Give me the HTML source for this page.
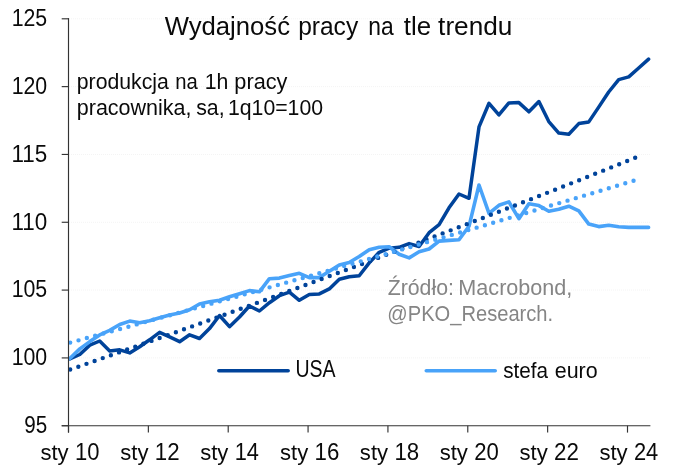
<!DOCTYPE html>
<html lang="pl"><head><meta charset="utf-8"><title>Wydajność pracy na tle trendu</title>
<style>
html,body{margin:0;padding:0;background:#fff;}
body{width:679px;height:473px;overflow:hidden;}
svg{display:block;}
text{font-family:"Liberation Sans",sans-serif;fill:#0a0a0a;}
</style></head><body>
<svg width="679" height="473" viewBox="0 0 679 473">
<rect width="679" height="473" fill="#fff"/>
<line x1="69" x2="650.4" y1="357.92" y2="357.92" stroke="#f4f4f4" stroke-width="1" stroke-dasharray="1 1"/><line x1="69" x2="650.4" y1="290.09" y2="290.09" stroke="#f4f4f4" stroke-width="1" stroke-dasharray="1 1"/><line x1="69" x2="650.4" y1="222.27" y2="222.27" stroke="#f4f4f4" stroke-width="1" stroke-dasharray="1 1"/><line x1="69" x2="650.4" y1="154.45" y2="154.45" stroke="#f4f4f4" stroke-width="1" stroke-dasharray="1 1"/><line x1="69" x2="650.4" y1="86.62" y2="86.62" stroke="#f4f4f4" stroke-width="1" stroke-dasharray="1 1"/><line x1="69" x2="650.4" y1="18.80" y2="18.80" stroke="#f4f4f4" stroke-width="1" stroke-dasharray="1 1"/>
<polyline points="69.8,358.9 79.8,354.5 89.8,345.1 99.7,341.0 109.7,350.9 119.7,349.8 129.7,352.9 139.7,346.7 149.6,339.8 159.6,332.3 169.6,336.9 179.6,341.7 189.6,334.8 199.5,338.5 209.5,328.6 219.5,315.5 229.5,326.7 239.5,317.0 249.4,306.0 259.4,311.0 269.4,302.7 279.4,295.7 289.4,292.2 299.3,300.3 309.3,294.6 319.3,293.9 329.3,288.9 339.3,279.2 349.2,276.7 359.2,275.8 369.2,262.9 379.2,252.3 389.2,248.2 399.1,247.3 409.1,243.6 419.1,246.5 429.1,232.7 439.1,224.7 449.0,207.8 459.0,194.0 469.0,198.3 479.0,126.9 489.0,103.3 498.9,114.8 508.9,102.9 518.9,102.6 528.9,111.8 538.9,101.5 548.8,121.6 558.8,133.1 568.8,134.2 578.8,123.6 588.8,121.9 598.7,107.1 608.7,92.0 618.7,79.6 628.7,76.9 638.7,68.0 648.6,59.1" fill="none" stroke="#00439a" stroke-width="3.5" stroke-linejoin="round" stroke-linecap="round"/>
<polyline points="69.8,358.5 79.8,348.9 89.8,341.6 99.7,334.9 109.7,330.4 119.7,324.5 129.7,321.1 139.7,322.8 149.6,320.7 159.6,317.7 169.6,315.1 179.6,313.0 189.6,309.8 199.5,304.0 209.5,301.7 219.5,300.2 229.5,296.8 239.5,293.7 249.4,290.6 259.4,291.8 269.4,278.7 279.4,278.1 289.4,275.6 299.3,273.3 309.3,277.6 319.3,277.6 329.3,271.3 339.3,265.0 349.2,262.5 359.2,256.5 369.2,249.8 379.2,247.3 389.2,246.7 399.1,254.2 409.1,257.9 419.1,251.7 429.1,249.0 439.1,241.1 449.0,240.4 459.0,239.8 469.0,226.3 479.0,185.0 489.0,213.3 498.9,205.3 508.9,201.9 518.9,218.7 528.9,203.7 538.9,205.6 548.8,211.2 558.8,209.3 568.8,206.2 578.8,210.8 588.8,224.1 598.7,226.6 608.7,225.3 618.7,226.8 628.7,227.4 638.7,227.4 648.6,227.4" fill="none" stroke="#49a3f9" stroke-width="3.6" stroke-linejoin="round" stroke-linecap="round"/>
<polyline points="70.2,369.52 74.9,367.86 79.7,366.21 84.4,364.55 89.2,362.89 93.9,361.22 98.7,359.56 103.4,357.89 108.2,356.22 112.9,354.55 117.7,352.88 122.4,351.20 127.2,349.53 131.9,347.85 136.7,346.17 141.4,344.48 146.2,342.80 150.9,341.11 155.7,339.42 160.4,337.73 165.2,336.03 169.9,334.34 174.7,332.64 179.4,330.94 184.2,329.24 188.9,327.54 193.7,325.83 198.4,324.12 203.2,322.41 207.9,320.70 212.6,318.98 217.4,317.27 222.1,315.55 226.9,313.83 231.6,312.11 236.4,310.38 241.1,308.65 245.9,306.93 250.6,305.19 255.4,303.46 260.1,301.73 264.9,299.99 269.6,298.25 274.4,296.51 279.1,294.76 283.9,293.02 288.6,291.27 293.4,289.52 298.1,287.77 302.9,286.01 307.6,284.26 312.4,282.50 317.1,280.74 321.9,278.98 326.6,277.21 331.4,275.44 336.1,273.67 340.9,271.90 345.6,270.13 350.4,268.35 355.1,266.58 359.8,264.80 364.6,263.01 369.3,261.23 374.1,259.44 378.8,257.65 383.6,255.86 388.3,254.07 393.1,252.27 397.8,250.48 402.6,248.68 407.3,246.88 412.1,245.07 416.8,243.27 421.6,241.46 426.3,239.65 431.1,237.83 435.8,236.02 440.6,234.20 445.3,232.38 450.1,230.56 454.8,228.74 459.6,226.91 464.3,225.08 469.1,223.25 473.8,221.42 478.6,219.58 483.3,217.75 488.1,215.91 492.8,214.07 497.5,212.22 502.3,210.38 507.0,208.53 511.8,206.68 516.5,204.82 521.3,202.97 526.0,201.11 530.8,199.25 535.5,197.39 540.3,195.53 545.0,193.66 549.8,191.79 554.5,189.92 559.3,188.05 564.0,186.17 568.8,184.29 573.5,182.41 578.3,180.53 583.0,178.65 587.8,176.76 592.5,174.87 597.3,172.98 602.0,171.09 606.8,169.19 611.5,167.29 616.3,165.39 621.0,163.49 625.8,161.58 630.5,159.67 635.3,157.76 640.0,155.85" fill="none" stroke="#00439a" stroke-width="4.4" stroke-linecap="round" stroke-dasharray="0 8.62"/>
<polyline points="70.2,342.60 74.9,341.30 79.7,340.01 84.4,338.72 89.2,337.42 93.9,336.13 98.7,334.83 103.4,333.53 108.2,332.23 112.9,330.93 117.7,329.63 122.4,328.33 127.2,327.03 131.9,325.72 136.7,324.41 141.4,323.11 146.2,321.80 150.9,320.49 155.7,319.17 160.4,317.86 165.2,316.55 169.9,315.23 174.7,313.92 179.4,312.60 184.2,311.28 188.9,309.96 193.7,308.64 198.4,307.32 203.2,305.99 207.9,304.67 212.6,303.34 217.4,302.01 222.1,300.68 226.9,299.35 231.6,298.02 236.4,296.69 241.1,295.36 245.9,294.02 250.6,292.68 255.4,291.35 260.1,290.01 264.9,288.67 269.6,287.33 274.4,285.98 279.1,284.64 283.9,283.30 288.6,281.95 293.4,280.60 298.1,279.25 302.9,277.90 307.6,276.55 312.4,275.20 317.1,273.85 321.9,272.49 326.6,271.13 331.4,269.78 336.1,268.42 340.9,267.06 345.6,265.70 350.4,264.33 355.1,262.97 359.8,261.60 364.6,260.24 369.3,258.87 374.1,257.50 378.8,256.13 383.6,254.76 388.3,253.39 393.1,252.01 397.8,250.64 402.6,249.26 407.3,247.88 412.1,246.50 416.8,245.12 421.6,243.74 426.3,242.36 431.1,240.97 435.8,239.59 440.6,238.20 445.3,236.81 450.1,235.42 454.8,234.03 459.6,232.64 464.3,231.24 469.1,229.85 473.8,228.45 478.6,227.05 483.3,225.66 488.1,224.26 492.8,222.85 497.5,221.45 502.3,220.05 507.0,218.64 511.8,217.24 516.5,215.83 521.3,214.42 526.0,213.01 530.8,211.60 535.5,210.18 540.3,208.77 545.0,207.35 549.8,205.93 554.5,204.52 559.3,203.10 564.0,201.67 568.8,200.25 573.5,198.83 578.3,197.40 583.0,195.98 587.8,194.55 592.5,193.12 597.3,191.69 602.0,190.26 606.8,188.82 611.5,187.39 616.3,185.95 621.0,184.52 625.8,183.08 630.5,181.64 635.3,180.20 640.0,178.75" fill="none" stroke="#49a3f9" stroke-width="4.4" stroke-linecap="round" stroke-dasharray="0 8.62"/>
<line x1="68.5" x2="68.5" y1="18.30" y2="432.6" stroke="#333333" stroke-width="1.15"/>
<line x1="61.7" x2="650.4" y1="425.74" y2="425.74" stroke="#333333" stroke-width="1.15"/>
<line x1="61.7" x2="69" y1="425.74" y2="425.74" stroke="#333333" stroke-width="1.15"/><line x1="61.7" x2="69" y1="357.92" y2="357.92" stroke="#333333" stroke-width="1.15"/><line x1="61.7" x2="69" y1="290.09" y2="290.09" stroke="#333333" stroke-width="1.15"/><line x1="61.7" x2="69" y1="222.27" y2="222.27" stroke="#333333" stroke-width="1.15"/><line x1="61.7" x2="69" y1="154.45" y2="154.45" stroke="#333333" stroke-width="1.15"/><line x1="61.7" x2="69" y1="86.62" y2="86.62" stroke="#333333" stroke-width="1.15"/><line x1="61.7" x2="69" y1="18.80" y2="18.80" stroke="#333333" stroke-width="1.15"/><line x1="68.50" x2="68.50" y1="425.7" y2="432.6" stroke="#333333" stroke-width="1.15"/><line x1="148.36" x2="148.36" y1="425.7" y2="432.6" stroke="#333333" stroke-width="1.15"/><line x1="228.21" x2="228.21" y1="425.7" y2="432.6" stroke="#333333" stroke-width="1.15"/><line x1="308.07" x2="308.07" y1="425.7" y2="432.6" stroke="#333333" stroke-width="1.15"/><line x1="387.93" x2="387.93" y1="425.7" y2="432.6" stroke="#333333" stroke-width="1.15"/><line x1="467.78" x2="467.78" y1="425.7" y2="432.6" stroke="#333333" stroke-width="1.15"/><line x1="547.64" x2="547.64" y1="425.7" y2="432.6" stroke="#333333" stroke-width="1.15"/><line x1="627.50" x2="627.50" y1="425.7" y2="432.6" stroke="#333333" stroke-width="1.15"/>
<line x1="218.8" x2="288.2" y1="370.7" y2="370.7" stroke="#00439a" stroke-width="3.5" stroke-linecap="round"/>
<line x1="426.3" x2="495.2" y1="370.7" y2="370.7" stroke="#49a3f9" stroke-width="3.6" stroke-linecap="round"/>
<text y="34.8"><tspan x="164.66" font-size="26.5" textLength="125.39" lengthAdjust="spacingAndGlyphs">Wydajność</tspan> <tspan x="298.18" font-size="26.5" textLength="59.98" lengthAdjust="spacingAndGlyphs">pracy</tspan> <tspan x="368.19" font-size="26.5" textLength="25.39" lengthAdjust="spacingAndGlyphs">na</tspan> <tspan x="403.71" font-size="26.5" textLength="27.31" lengthAdjust="spacingAndGlyphs">tle</tspan> <tspan x="438.11" font-size="26.5" textLength="74.26" lengthAdjust="spacingAndGlyphs">trendu</tspan></text>
<text y="88.6"><tspan x="76.79" font-size="22.6" textLength="92.08" lengthAdjust="spacingAndGlyphs">produkcja</tspan> <tspan x="175.15" font-size="22.6" textLength="22.55" lengthAdjust="spacingAndGlyphs">na</tspan> <tspan x="204.65" font-size="22.6" textLength="23.66" lengthAdjust="spacingAndGlyphs">1h</tspan> <tspan x="234.36" font-size="22.6" textLength="53.08" lengthAdjust="spacingAndGlyphs">pracy</tspan></text>
<text y="114.8"><tspan x="76.77" font-size="22.6" textLength="114.79" lengthAdjust="spacingAndGlyphs">pracownika,</tspan> <tspan x="196.19" font-size="22.6" textLength="28.43" lengthAdjust="spacingAndGlyphs">sa,</tspan> <tspan x="227.95" font-size="22.6" textLength="95.10" lengthAdjust="spacingAndGlyphs">1q10=100</tspan></text>
<text y="295.2" style="fill:#858585"><tspan x="387.69" font-size="22.6" textLength="66.26" lengthAdjust="spacingAndGlyphs">Źródło:</tspan> <tspan x="458.33" font-size="22.6" textLength="114.04" lengthAdjust="spacingAndGlyphs">Macrobond,</tspan></text>
<text y="320.9" style="fill:#858585"><tspan x="387.34" font-size="22.6" textLength="165.80" lengthAdjust="spacingAndGlyphs">@PKO_Research.</tspan></text>
<text y="377.3"><tspan x="295.42" font-size="23" textLength="40.12" lengthAdjust="spacingAndGlyphs">USA</tspan></text>
<text y="377.5"><tspan x="503.26" font-size="22.6" textLength="44.82" lengthAdjust="spacingAndGlyphs">stefa</tspan> <tspan x="554.75" font-size="22.6" textLength="42.88" lengthAdjust="spacingAndGlyphs">euro</tspan></text>
<text y="433.0"><tspan x="24.20" font-size="23.0" textLength="22.95" lengthAdjust="spacingAndGlyphs">95</tspan></text>
<text y="365.2"><tspan x="11.63" font-size="23.0" textLength="35.58" lengthAdjust="spacingAndGlyphs">100</tspan></text>
<text y="297.4"><tspan x="11.63" font-size="23.0" textLength="35.58" lengthAdjust="spacingAndGlyphs">105</tspan></text>
<text y="229.6"><tspan x="11.54" font-size="23.0" textLength="35.76" lengthAdjust="spacingAndGlyphs">110</tspan></text>
<text y="161.7"><tspan x="11.54" font-size="23.0" textLength="35.76" lengthAdjust="spacingAndGlyphs">115</tspan></text>
<text y="93.9"><tspan x="11.63" font-size="23.0" textLength="35.58" lengthAdjust="spacingAndGlyphs">120</tspan></text>
<text y="26.1"><tspan x="11.63" font-size="23.0" textLength="35.58" lengthAdjust="spacingAndGlyphs">125</tspan></text>
<text y="460.4"><tspan x="40.42" font-size="22.6" textLength="28.20" lengthAdjust="spacingAndGlyphs">sty</tspan> <tspan x="75.03" font-size="23.0" textLength="24.48" lengthAdjust="spacingAndGlyphs">10</tspan></text>
<text y="460.4"><tspan x="120.27" font-size="22.6" textLength="28.20" lengthAdjust="spacingAndGlyphs">sty</tspan> <tspan x="154.86" font-size="23.0" textLength="24.75" lengthAdjust="spacingAndGlyphs">12</tspan></text>
<text y="460.4"><tspan x="200.13" font-size="22.6" textLength="28.20" lengthAdjust="spacingAndGlyphs">sty</tspan> <tspan x="234.76" font-size="23.0" textLength="24.22" lengthAdjust="spacingAndGlyphs">14</tspan></text>
<text y="460.4"><tspan x="279.99" font-size="22.6" textLength="28.20" lengthAdjust="spacingAndGlyphs">sty</tspan> <tspan x="314.58" font-size="23.0" textLength="24.75" lengthAdjust="spacingAndGlyphs">16</tspan></text>
<text y="460.4"><tspan x="359.85" font-size="22.6" textLength="28.20" lengthAdjust="spacingAndGlyphs">sty</tspan> <tspan x="394.44" font-size="23.0" textLength="24.75" lengthAdjust="spacingAndGlyphs">18</tspan></text>
<text y="460.4"><tspan x="439.70" font-size="22.6" textLength="28.20" lengthAdjust="spacingAndGlyphs">sty</tspan> <tspan x="474.18" font-size="23.0" textLength="24.61" lengthAdjust="spacingAndGlyphs">20</tspan></text>
<text y="460.4"><tspan x="519.56" font-size="22.6" textLength="28.20" lengthAdjust="spacingAndGlyphs">sty</tspan> <tspan x="554.03" font-size="23.0" textLength="24.88" lengthAdjust="spacingAndGlyphs">22</tspan></text>
<text y="460.4"><tspan x="599.42" font-size="22.6" textLength="28.20" lengthAdjust="spacingAndGlyphs">sty</tspan> <tspan x="633.91" font-size="23.0" textLength="24.35" lengthAdjust="spacingAndGlyphs">24</tspan></text>
</svg>
</body></html>
